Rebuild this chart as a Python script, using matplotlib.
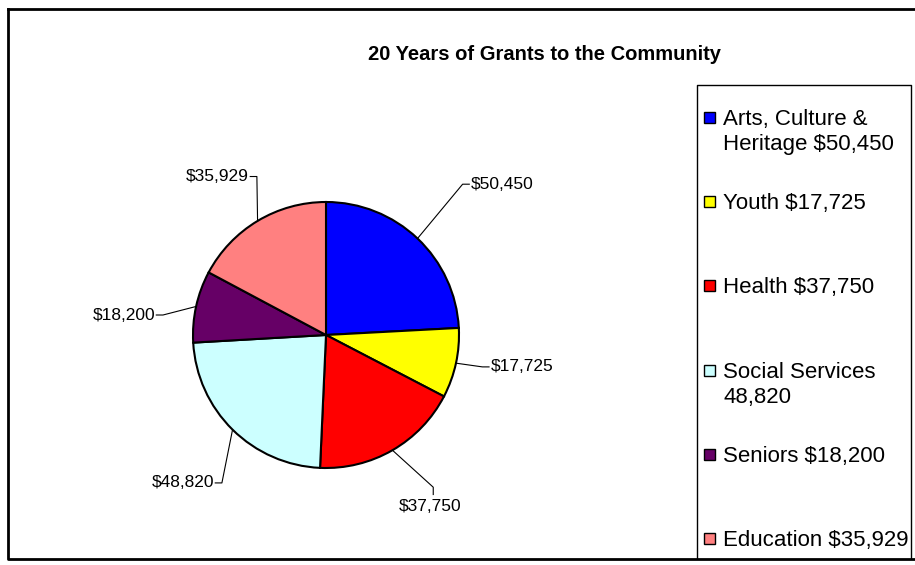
import numpy as np
import matplotlib
matplotlib.use('Agg')
import matplotlib.pyplot as plt
from matplotlib.patches import Rectangle
from matplotlib.lines import Line2D

plt.rcParams['font.family'] = ['Liberation Sans', 'DejaVu Sans']

# data
categories = ['Arts, Culture &\nHeritage $50,450', 'Youth $17,725', 'Health $37,750',
              'Social Services\n48,820', 'Seniors $18,200', 'Education $35,929']
values = [50450, 17725, 37750, 48820, 18200, 35929]
value_labels = ['$50,450', '$17,725', '$37,750', '$48,820', '$18,200', '$35,929']
colors = ['#0000FF', '#FFFF00', '#FF0000', '#CCFFFF', '#660066', '#FF8080']
title = '20 Years of Grants to the Community'

# leader line layout (radius of bend point, angle nudge in degrees, style)
lab_r = [1.53, 1.20, 1.40, 1.36, 1.235, 1.30]
lab_dang = [1.3, 0.7, 5.2, 9.5, 5.4, -7.4]
lab_style = ['h', 'h', 'v', 'h', 'h', 'h']

W, H = 915, 565
cx, cy, R = 326, 335, 133  # pie centre / radius in pixels

fig = plt.figure(figsize=(W / 100, H / 100), dpi=100)
ax = fig.add_axes([0, 0, 1, 1])
wedges, _ = ax.pie(values, colors=colors, startangle=90, counterclock=False,
                   wedgeprops=dict(edgecolor='black', linewidth=1.5))
ax.set_xlim(-cx / R, (W - cx) / R)
ax.set_ylim(-(H - cy) / R, cy / R)
ax.set_aspect('equal')
ax.axis('off')

for w, lab, r, da, st in zip(wedges, value_labels, lab_r, lab_dang, lab_style):
    mid = np.deg2rad((w.theta1 + w.theta2) / 2)
    ex, ey = np.cos(mid), np.sin(mid)
    bx, by = r * np.cos(mid + np.deg2rad(da)), r * np.sin(mid + np.deg2rad(da))
    if st == 'v':
        ax.plot([ex, bx, bx], [ey, by, by - 0.055], color='black', lw=0.8)
        ax.text(bx - 0.02, by - 0.085, lab, ha='center', va='top', fontsize=12.5)
    elif bx > 0:
        ax.plot([ex, bx, bx + 0.05], [ey, by, by], color='black', lw=0.8)
        ax.text(bx + 0.06, by, lab, ha='left', va='center', fontsize=12.5)
    else:
        ax.plot([ex, bx, bx - 0.05], [ey, by, by], color='black', lw=0.8)
        ax.text(bx - 0.06, by, lab, ha='right', va='center', fontsize=12.5)

# outer frame
fig.add_artist(Line2D([8 / W, 8 / W, 1], [1 - 9 / H, 1 - 559 / H, 1 - 559 / H],
                      transform=fig.transFigure, color='black', lw=2))
fig.add_artist(Line2D([8 / W, 1], [1 - 9 / H, 1 - 9 / H],
                      transform=fig.transFigure, color='black', lw=2))

# legend box
fig.add_artist(Line2D([697 / W, 697 / W, 911 / W, 911 / W],
                      [1 - 558 / H, 1 - 85 / H, 1 - 85 / H, 1 - 558 / H],
                      transform=fig.transFigure, color='black', lw=1))

fig.text(545 / W, 1 - 55 / H, title, ha='center', va='center',
         fontsize=14.5, fontweight='bold')

for i, (cat, col) in enumerate(zip(categories, colors)):
    yc = 117 + i * 84.2
    fig.add_artist(Rectangle((704 / W, 1 - (yc + 6) / H), 11 / W, 11 / H,
                             transform=fig.transFigure, facecolor=col,
                             edgecolor='black', lw=1))
    for k, line in enumerate(cat.split('\n')):
        fig.text(723 / W, 1 - (yc + k * 25) / H, line, ha='left',
                 va='center_baseline', fontsize=16)

fig.savefig('out.png', dpi=100)
